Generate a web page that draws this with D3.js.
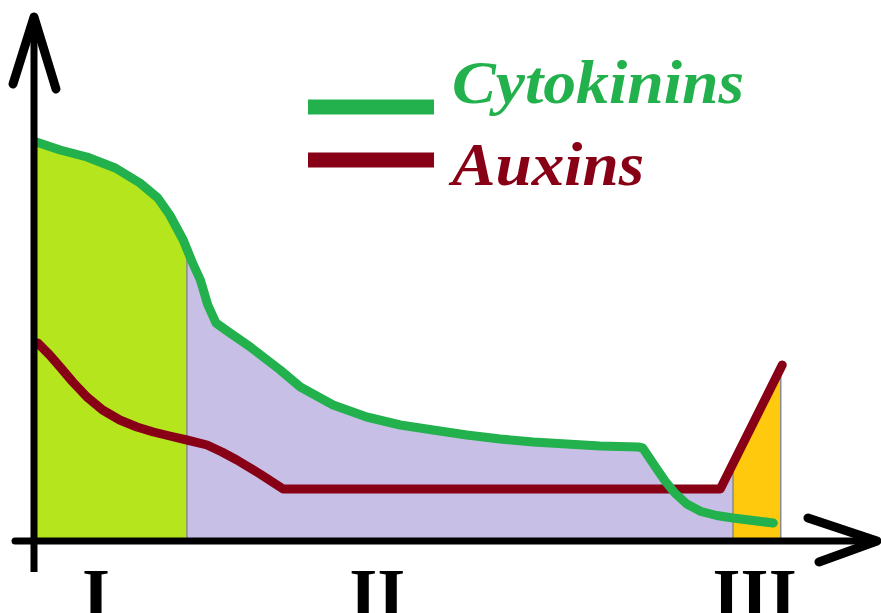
<!DOCTYPE html>
<html>
<head>
<meta charset="utf-8">
<script src="https://cdn.jsdelivr.net/npm/d3@7"></script>
<style>
  body { margin: 0; background: #fff; }
  svg { display: block; }
</style>
</head>
<body>
<div id="chart"></div>
<script>
// hormone levels along the zones (arbitrary units)
var cytokinins = [
  [0.3, 79.8], [3.5, 78.2], [7.1, 76.8], [10.9, 74.6], [14.2, 71.6], [16.6, 68.6],
  [18.2, 65.2], [20.0, 60.2], [21.2, 55.8], [22.3, 52.2], [23.3, 47.2], [24.4, 43.6],
  [25.9, 42.0], [29.0, 38.8], [33.0, 34.2], [35.7, 30.8], [40.1, 27.2], [44.6, 24.8],
  [49.1, 23.2], [53.5, 22.2], [58.0, 21.2], [62.5, 20.4], [66.9, 19.8], [71.4, 19.4],
  [75.9, 19.0], [81.0, 18.8], [81.6, 18.6], [83.4, 14.6], [84.6, 12.0], [85.9, 9.6],
  [87.5, 7.4], [89.4, 5.9], [91.5, 5.1], [93.7, 4.6], [99.1, 3.6]
]
var auxins = [
  [0.5, 39.6], [2.1, 37.2], [3.5, 34.8], [5.2, 31.8], [7.1, 28.8], [9.2, 26.2],
  [11.5, 24.2], [13.8, 22.8], [16.0, 21.8], [18.2, 21.0], [20.5, 20.2], [23.2, 19.2],
  [25.2, 17.8], [27.2, 16.2], [30.3, 13.4], [33.4, 10.4], [92.0, 10.4], [100.3, 35.2]
]
var zones = ["I", "II", "III"]
var zoneBounds = [0, 20.5, 93.7, 100.1]
var zoneLabelX = [8.3, 46, 96.6]
var zoneColors = ["#b5e61d", "#c8bfe7", "#ffc90e"]
var seriesNames = ["Cytokinins", "Auxins"]
var seriesColors = ["#22b14c", "#880015"]

var W = 881, H = 613

var svg = d3.select("#chart").append("svg")
  .attr("width", W)
  .attr("height", H)

var x = d3.scaleLinear().domain([0, 100]).range([34, 780])
var y = d3.scaleLinear().domain([0, 100]).range([541, 41])

var area = d3.area()
  .x(function(d) { return x(d[0]) })
  .y0(y(0))
  .y1(function(d) { return y(d[1]) })

var line = d3.line()
  .x(function(d) { return x(d[0]) })
  .y(function(d) { return y(d[1]) })

// union of the areas under both curves
var clip = svg.append("defs").append("clipPath").attr("id", "under")
clip.append("path").attr("d", area(cytokinins))
clip.append("path").attr("d", area(auxins))

var fills = svg.append("g").attr("clip-path", "url(#under)")
fills.selectAll("rect")
  .data(zones)
  .enter()
  .append("rect")
  .attr("x", function(d, i) { return x(zoneBounds[i]) })
  .attr("width", function(d, i) { return x(zoneBounds[i + 1]) - x(zoneBounds[i]) })
  .attr("y", 0)
  .attr("height", y(0))
  .attr("fill", function(d, i) { return zoneColors[i] })

fills.selectAll("line")
  .data(zoneBounds.slice(1))
  .enter()
  .append("line")
  .attr("x1", function(d) { return x(d) })
  .attr("x2", function(d) { return x(d) })
  .attr("y1", 0)
  .attr("y2", y(0))
  .attr("stroke", "#8a8a8a")
  .attr("stroke-width", 1.5)

svg.append("path")
  .attr("d", line(auxins))
  .attr("fill", "none")
  .attr("stroke", seriesColors[1])
  .attr("stroke-width", 9)
  .attr("stroke-linejoin", "round")
  .attr("stroke-linecap", "round")

svg.append("path")
  .attr("d", line(cytokinins))
  .attr("fill", "none")
  .attr("stroke", seriesColors[0])
  .attr("stroke-width", 9)
  .attr("stroke-linejoin", "round")
  .attr("stroke-linecap", "round")

// axes with arrow heads
var axes = svg.append("g")
  .attr("stroke", "#000")
  .attr("fill", "none")
  .attr("stroke-linecap", "round")
  .attr("stroke-linejoin", "round")

axes.append("line")
  .attr("x1", x(0)).attr("y1", 17)
  .attr("x2", x(0)).attr("y2", 572)
  .attr("stroke-width", 7)
  .attr("stroke-linecap", "butt")
axes.append("path")
  .attr("d", "M13,84L" + x(0) + ",17L56,89")
  .attr("stroke-width", 9)

axes.append("line")
  .attr("x1", 15).attr("y1", y(0))
  .attr("x2", 876).attr("y2", y(0))
  .attr("stroke-width", 7)
axes.append("path")
  .attr("d", "M808,518L877," + y(0) + "L819,562")
  .attr("stroke-width", 9)

// zone labels (cut by the bottom edge, as in the original)
svg.selectAll(".zone")
  .data(zones)
  .enter()
  .append("text")
  .attr("class", "zone")
  .attr("x", function(d, i) { return x(zoneLabelX[i]) })
  .attr("y", 618)
  .attr("text-anchor", "middle")
  .attr("font-family", "'Liberation Serif', 'Times New Roman', serif")
  .attr("font-weight", "bold")
  .attr("font-size", 72)
  .attr("fill", "#000")
  .text(function(d) { return d })

// legend
var legendY = [107, 160]
var textY = [103, 185]
var textLen = [292, 192]
var legend = svg.selectAll(".legend")
  .data(seriesNames)
  .enter()
  .append("g")
  .attr("class", "legend")

legend.append("rect")
  .attr("x", 308)
  .attr("y", function(d, i) { return legendY[i] - 7.5 })
  .attr("width", 126)
  .attr("height", 15)
  .attr("fill", function(d, i) { return seriesColors[i] })

legend.append("text")
  .attr("x", 452)
  .attr("y", function(d, i) { return textY[i] })
  .attr("font-family", "'Liberation Serif', 'Times New Roman', serif")
  .attr("font-weight", "bold")
  .attr("font-style", "italic")
  .attr("font-size", 61)
  .attr("textLength", function(d, i) { return textLen[i] })
  .attr("lengthAdjust", "spacingAndGlyphs")
  .attr("fill", function(d, i) { return seriesColors[i] })
  .text(function(d) { return d })
</script>
</body>
</html>
